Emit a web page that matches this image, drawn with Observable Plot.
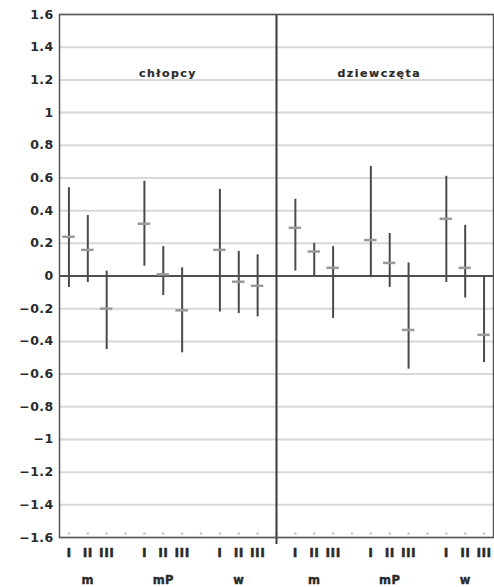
<!DOCTYPE html>
<html>
<head>
<meta charset="utf-8">
<script src="https://cdn.jsdelivr.net/npm/d3@7"></script>
<script src="https://cdn.jsdelivr.net/npm/@observablehq/plot@0.6"></script>
<style>
  html, body { margin: 0; padding: 0; background: #fff; }
  #chart svg text { letter-spacing: 0.4px; }
  #chart svg text.panel-title { letter-spacing: 1.5px; }
</style>
</head>
<body>
<div id="chart"></div>
<script>
// Panels, groups and measurement occasions
const panels = ["chłopcy", "dziewczęta"];
const groups = ["m", "mP", "w"];
const numerals = ["I", "II", "III"];
const yTicks = [1.6, 1.4, 1.2, 1, 0.8, 0.6, 0.4, 0.2, 0, -0.2, -0.4, -0.6, -0.8, -1, -1.2, -1.4, -1.6];

// Boys: mean with lower / upper bound, ordered m I-III, mP I-III, w I-III
const boysMean = [0.24, 0.16, -0.20, 0.32, 0.01, -0.21, 0.16, -0.035, -0.06];
const boysLow  = [-0.07, -0.04, -0.45, 0.06, -0.12, -0.47, -0.22, -0.23, -0.25];
const boysHigh = [0.54, 0.37, 0.03, 0.58, 0.18, 0.05, 0.53, 0.15, 0.13];

// Girls
const girlsMean = [0.295, 0.15, 0.05, 0.22, 0.08, -0.33, 0.35, 0.05, -0.36];
const girlsLow  = [0.03, 0.0, -0.26, -0.01, -0.07, -0.57, -0.04, -0.135, -0.53];
const girlsHigh = [0.47, 0.2, 0.18, 0.67, 0.26, 0.08, 0.61, 0.31, 0.0];

// Slot layout: 12 slots per panel, 4 per group (three bars and a gap)
const slotsPerGroup = numerals.length + 1;
const slotsPerPanel = groups.length * slotsPerGroup;
const slotOf = (p, g, n) => p * slotsPerPanel + g * slotsPerGroup + n;
const lastSlot = slotOf(panels.length - 1, groups.length - 1, numerals.length - 1);
const divider = slotsPerPanel - 1;

const rows = [];
const groupRows = [];
panels.forEach((panel, p) => {
  const [mean, low, high] = p === 0
    ? [boysMean, boysLow, boysHigh]
    : [girlsMean, girlsLow, girlsHigh];
  groups.forEach((group, g) => {
    groupRows.push({group, slot: slotOf(p, g, 1)});
    numerals.forEach((numeral, n) => {
      const i = g * numerals.length + n;
      rows.push({panel, group, numeral, slot: slotOf(p, g, n), mean: mean[i], low: low[i], high: high[i]});
    });
  });
});

// Panel titles: centred on the left half, a little left of centre on the right half
const panelSpan = [[-0.5, divider], [divider, lastSlot + 0.5]];
const titleRows = panels.map((name, p) => ({name, x: (panelSpan[p][0] + panelSpan[p][1]) / 2 - p * 0.3}));

const ink = "#2a2a2a";

const chart = Plot.plot({
  width: 494,
  height: 587,
  marginLeft: 59,
  marginRight: 1,
  marginTop: 14,
  marginBottom: 50,
  x: {domain: [-0.5, lastSlot + 0.5], axis: null},
  y: {domain: [-1.6, 1.6], axis: null},
  style: {
    fontFamily: "'DejaVu Sans', Verdana, sans-serif",
    fontWeight: "bold",
    background: "#fff",
    color: ink
  },
  marks: [
    // horizontal grid
    Plot.ruleY(yTicks, {stroke: "#d8d8d8", strokeWidth: 2}),
    // small ticks along the bottom
    Plot.dot(d3.range(lastSlot + 1), {x: d => d, frameAnchor: "bottom", dy: -4, r: 1.3, fill: "#c4c4c4", stroke: "none"}),
    // y axis labels
    Plot.axisY({ticks: yTicks, tickSize: 0, tickPadding: 6, tickFormat: d => String(d).replace("-", "\u2212"),
                fontSize: 12.5, stroke: ink, strokeWidth: 0.3}),
    // zero line
    Plot.ruleY([0], {stroke: "#505050", strokeWidth: 2}),
    // range bars
    Plot.ruleX(rows, {x: "slot", y1: "low", y2: "high", stroke: "#4a4a4a", strokeWidth: 2}),
    // mean marks
    Plot.ruleY(rows, {y: "mean", x1: d => d.slot - 0.33, x2: d => d.slot + 0.33, stroke: "#9a9a9a", strokeWidth: 2.5}),
    // panel divider
    Plot.ruleX([divider], {stroke: "#3a3a3a", strokeWidth: 2, insetBottom: -7}),
    Plot.frame({stroke: "#555", strokeWidth: 1.5}),
    // occasion numerals and group names
    Plot.text(rows, {x: "slot", text: "numeral", frameAnchor: "bottom", dy: 19, fontSize: 12.5, fill: ink, stroke: ink, strokeWidth: 0.4}),
    Plot.text(groupRows, {x: "slot", text: "group", frameAnchor: "bottom", dy: 46, fontSize: 11.5, fill: ink, stroke: ink, strokeWidth: 0.4}),
    // panel titles
    Plot.text(titleRows, {x: "x", text: "name", frameAnchor: "top", dy: 55, fontSize: 11, fill: ink, stroke: ink, strokeWidth: 0.2})
  ]
});

// wider tracking for the panel titles
d3.select(chart).selectAll("text")
  .filter(function () { return panels.includes(this.textContent); })
  .classed("panel-title", true);

document.getElementById("chart").appendChild(chart);
</script>
</body>
</html>
